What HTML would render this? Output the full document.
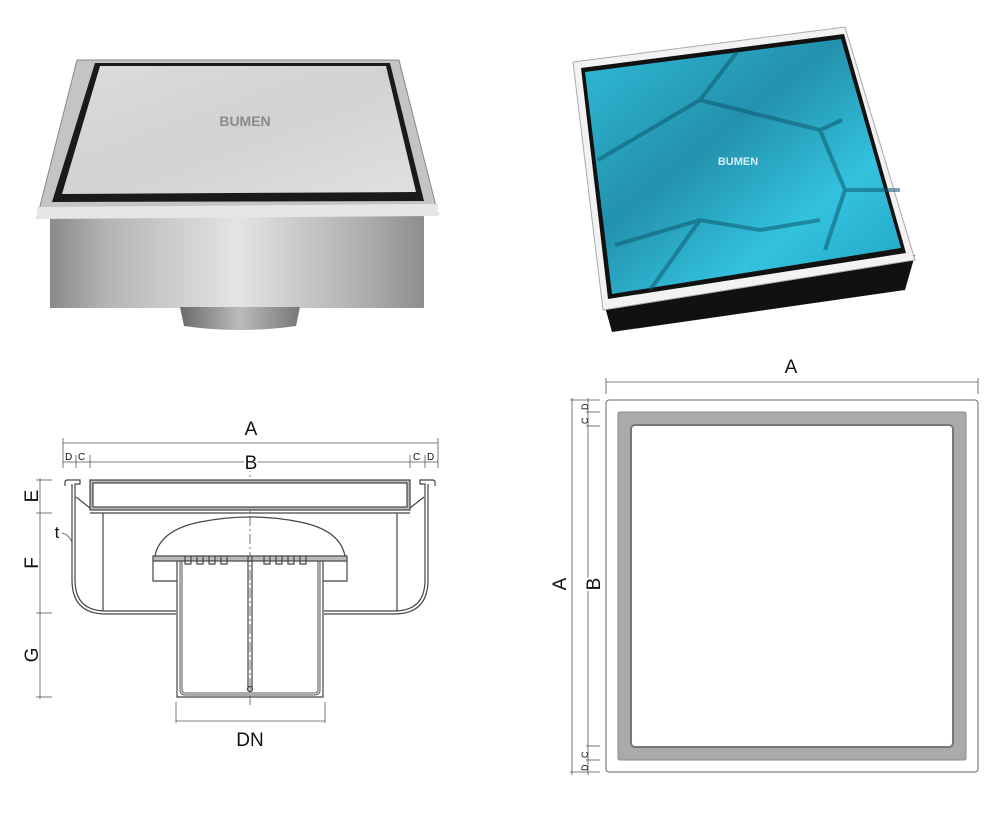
<!DOCTYPE html>
<html><head><meta charset="utf-8"><style>
html,body{margin:0;padding:0;background:#fff;}
svg{display:block;font-family:"Liberation Sans",sans-serif;}
</style></head><body>
<svg width="1000" height="817" viewBox="0 0 1000 817" xmlns="http://www.w3.org/2000/svg">
<defs>
<linearGradient id="lid" x1="0" y1="0" x2="1" y2="1">
<stop offset="0" stop-color="#dcdcdc"/><stop offset="0.5" stop-color="#d2d2d2"/><stop offset="1" stop-color="#e0e0e0"/></linearGradient>
<linearGradient id="body" x1="0" y1="0" x2="1" y2="0">
<stop offset="0" stop-color="#8a8a8a"/><stop offset="0.15" stop-color="#b4b4b4"/><stop offset="0.5" stop-color="#e4e4e4"/><stop offset="0.85" stop-color="#acacac"/><stop offset="1" stop-color="#8e8e8e"/></linearGradient>
<linearGradient id="pipe" x1="0" y1="0" x2="1" y2="0">
<stop offset="0" stop-color="#6a6a6a"/><stop offset="0.5" stop-color="#bbb"/><stop offset="1" stop-color="#777"/></linearGradient>
<linearGradient id="blue" x1="0" y1="0" x2="1" y2="1">
<stop offset="0" stop-color="#30bcd8"/><stop offset="0.4" stop-color="#2391ad"/><stop offset="0.7" stop-color="#33c2de"/><stop offset="1" stop-color="#22a3c2"/></linearGradient>
</defs>

<!-- Left photo -->
<rect x="50" y="214" width="374" height="94" fill="url(#body)"/>
<path d="M180 307 L300 307 L296 326 Q240 334 184 326 Z" fill="url(#pipe)"/>
<polygon points="77,60 399,60 438,214 37,218" fill="#c4c4c4" stroke="#888" stroke-width="1"/>
<polygon points="37,207 438,204 438,216 37,219" fill="#e6e6e6"/>
<polygon points="95,63 390,63 424,201 52,202" fill="#1a1a1a"/>
<polygon points="100,66 386,66 416,192 62,194" fill="url(#lid)"/>
<text x="245" y="126" font-size="14" font-weight="bold" fill="#8a8a8a" text-anchor="middle">BUMEN</text>

<!-- Right photo -->
<polygon points="603,300 915,255 905,290 612,332" fill="#111"/>
<polygon points="573,62 845,27 915,260 603,310" fill="#f2f2f2" stroke="#aaa" stroke-width="1"/>
<polygon points="581,68 844,34 906,253 608,299" fill="#111"/>
<polygon points="585,72 841,39 901,248 612,294" fill="url(#blue)"/>
<path d="M598 160 L700 100 L737 52 M700 100 L820 130 L842 120 M820 130 L845 190 L900 190 M845 190 L825 250 M615 245 L700 220 L760 230 L820 220 M700 220 L650 290" fill="none" stroke="#0d5a6e" stroke-width="4" opacity="0.55"/>
<text x="738" y="165" font-size="11" font-weight="bold" fill="#d8eef3" text-anchor="middle">BUMEN</text>

<!-- Section drawing -->
<g stroke="#555" stroke-width="0.8" fill="none">
<line x1="63" y1="443" x2="438" y2="443"/>
<line x1="63" y1="438" x2="63" y2="468"/><line x1="438" y1="438" x2="438" y2="468"/>
<line x1="63" y1="462" x2="438" y2="462"/>
<line x1="76" y1="455" x2="76" y2="468"/><line x1="90" y1="455" x2="90" y2="468"/>
<line x1="410" y1="455" x2="410" y2="468"/><line x1="425" y1="455" x2="425" y2="468"/>
<line x1="40" y1="478" x2="40" y2="699"/>
<line x1="36" y1="480" x2="52" y2="480"/><line x1="36" y1="513" x2="52" y2="513"/>
<line x1="36" y1="613" x2="52" y2="613"/><line x1="36" y1="697" x2="52" y2="697"/>
<line x1="176" y1="702" x2="176" y2="723"/><line x1="325" y1="702" x2="325" y2="723"/>
<line x1="176" y1="721" x2="325" y2="721"/>
<line x1="250" y1="462" x2="250" y2="705" stroke-dasharray="10,3,2,3"/>
<path d="M62 533 Q68 534 72 542"/>
</g>
<g stroke="#444" stroke-width="1.2" fill="none">
<path d="M65 486 L65 482 Q65 480 68 480 L80 480 L80 484 L75 484 L75 580 Q75 611 106 611 L176 611"/>
<path d="M72 484 L72 580 Q72 614 106 614 L176 614"/>
<path d="M435 486 L435 482 Q435 480 432 480 L420 480 L420 484 L425 484 L425 580 Q425 611 394 611 L324 611"/>
<path d="M428 484 L428 580 Q428 614 394 614 L324 614"/>
<rect x="90" y="480" width="320" height="30" fill="#bbb"/>
<rect x="93" y="483" width="314" height="24" fill="#fff"/>
<line x1="103" y1="513" x2="103" y2="611"/><line x1="397" y1="513" x2="397" y2="611"/>
<line x1="90" y1="513" x2="410" y2="513"/>
<line x1="76" y1="497" x2="90" y2="508"/><line x1="424" y1="497" x2="410" y2="508"/>
<path d="M177 560 L177 697 L323 697 L323 560"/>
<path d="M181 560 L181 690 Q181 694 186 694 L314 694 Q319 694 319 690 L319 560" stroke="#555" stroke-width="3" />
<path d="M181 560 L181 690 Q181 694 186 694 L314 694 Q319 694 319 690 L319 560" stroke="#ddd" stroke-width="1.2"/>
<path d="M155 556 Q160 530 200 522 Q250 512 300 522 Q340 530 345 556"/>
<rect x="153" y="556" width="194" height="5" fill="#bbb"/>
<path d="M153 561 L153 581 L177 581 M347 561 L347 581 L323 581"/>
<path d="M185 556 l0 8 l6 0 l0 -8 M197 556 l0 8 l6 0 l0 -8 M209 556 l0 8 l6 0 l0 -8 M221 556 l0 8 l6 0 l0 -8 M264 556 l0 8 l6 0 l0 -8 M276 556 l0 8 l6 0 l0 -8 M288 556 l0 8 l6 0 l0 -8 M300 556 l0 8 l6 0 l0 -8"/>
<line x1="248" y1="556" x2="248" y2="688"/><line x1="252" y1="556" x2="252" y2="688"/>
<circle cx="250" cy="689" r="2.5" fill="#bbb"/>
</g>
<g font-size="19" fill="#111" text-anchor="middle">
<text x="251" y="435">A</text>
<text x="251" y="469" stroke="#fff" stroke-width="4" paint-order="stroke">B</text>
<text x="250" y="746">DN</text>
<text x="57" y="538" font-size="17">t</text>
<text transform="translate(38,496) rotate(-90)">E</text>
<text transform="translate(38,563) rotate(-90)">F</text>
<text transform="translate(38,655) rotate(-90)">G</text>
</g>
<g font-size="10" fill="#111">
<text x="65" y="460">D</text><text x="78" y="460">C</text>
<text x="413" y="460">C</text><text x="427" y="460">D</text>
</g>

<!-- Plan view -->
<g stroke="#555" stroke-width="0.8" fill="none">
<line x1="606" y1="382" x2="978" y2="382"/>
<line x1="606" y1="378" x2="606" y2="394"/><line x1="978" y1="378" x2="978" y2="394"/>
<line x1="572" y1="398" x2="572" y2="775"/>
<line x1="588" y1="398" x2="588" y2="775"/>
<line x1="570" y1="400" x2="600" y2="400"/><line x1="586" y1="412" x2="600" y2="412"/><line x1="586" y1="426" x2="600" y2="426"/>
<line x1="586" y1="746" x2="600" y2="746"/><line x1="586" y1="760" x2="600" y2="760"/><line x1="570" y1="772" x2="600" y2="772"/>
</g>
<rect x="606" y="400" width="372" height="372" rx="3" fill="#fff" stroke="#666" stroke-width="1"/>
<rect x="618" y="412" width="348" height="348" rx="2" fill="#aaa" stroke="#888" stroke-width="1"/>
<rect x="631" y="425" width="322" height="322" rx="4" fill="#fff" stroke="#777" stroke-width="2"/>
<g font-size="19" fill="#111" text-anchor="middle">
<text x="791" y="373">A</text>
<text transform="translate(566,584) rotate(-90)">A</text>
<text transform="translate(600,584) rotate(-90)" stroke="#fff" stroke-width="4" paint-order="stroke">B</text>
</g>
<g font-size="9" fill="#111">
<text transform="translate(588,424) rotate(-90)">C</text>
<text transform="translate(588,410) rotate(-90)">D</text>
<text transform="translate(588,758) rotate(-90)">C</text>
<text transform="translate(588,771) rotate(-90)">D</text>
</g>
</svg>
</body></html>
